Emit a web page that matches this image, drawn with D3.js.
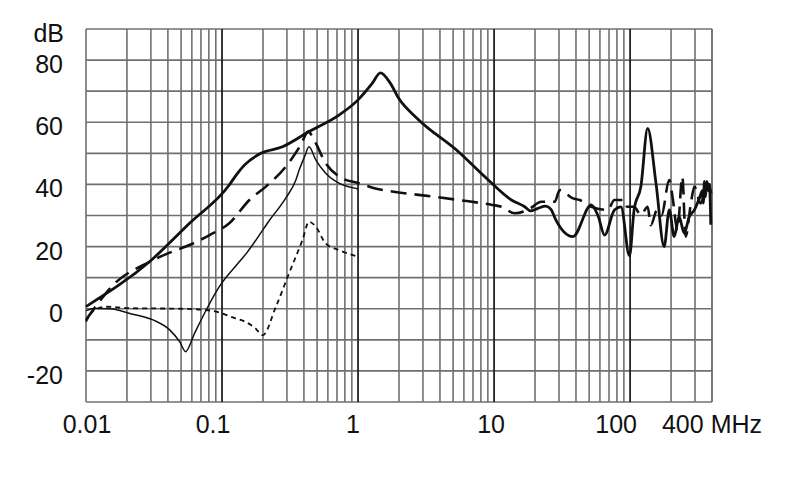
<!DOCTYPE html>
<html>
<head>
<meta charset="utf-8">
<script src="https://cdn.jsdelivr.net/npm/d3@7"></script>
<style>
  html, body { margin: 0; padding: 0; background: #fff; }
  svg { display: block; }
  text { font-family: "Liberation Sans", Arial, sans-serif; fill: #111; }
</style>
</head>
<body>
<svg id="chart" width="790" height="499"></svg>
<script>
// ---------------- DATA ----------------
const xTickValues = [0.01, 0.1, 1, 10, 100, 400];
const xTickLabels = ["0.01", "0.1", "1", "10", "100", "400 MHz"];
const yTickValues = [-20, 0, 20, 40, 60, 80];
const yUnitLabel = "dB";

// Series 1: thick solid
const s1Freq = [0.01, 0.0303, 0.0577, 0.113, 0.127, 0.146, 0.193, 0.278, 0.436, 0.724, 1.0, 1.27, 1.46, 1.73, 1.99, 2.71, 5.47, 9.07, 13.4, 16.8, 18.5, 21, 24, 26.2, 28.5, 38, 51.8, 58, 64.9, 76.7, 85.7, 98.9, 107, 120, 134.6, 155, 178, 194, 211, 229, 250, 272, 297, 326, 340, 345, 352, 358, 366, 375, 383, 392];
const s1Db   = [0.7,  15.7,   27.5,   39.8,  43,    46.2,  50,    52.1,  57,    62.3,  67.2, 72.5, 75.9, 72.5, 67.7, 61.3, 50.5, 41.4, 35,   32.8, 31.5, 32.3, 33, 32, 28.5, 23.2, 33.4, 30, 23.7, 31.8, 32.8, 17, 31.8, 39.3, 58, 40.4, 20, 31.8, 23.2, 29.6, 24.3, 29.6, 31.8, 36, 38, 34, 41, 36, 41, 38, 40, 27];

// Series 2: thick long dashes
const s2Freq = [0.01, 0.012, 0.0154, 0.0294, 0.04, 0.0577, 0.081, 0.113, 0.159, 0.21, 0.294, 0.379, 0.43, 0.475, 0.578, 0.765, 1.01, 1.34, 1.78, 3.12, 5.47, 9.7, 11.4, 14.2, 18, 22.3, 27.9, 30.4, 38, 42.6, 51.8, 68.5, 76.7, 90.8, 95, 107, 120, 134.6, 142, 158, 170, 194, 205, 223, 242, 256, 279, 297, 330, 370, 400];
const s2Db   = [-3.6, 1.2,   7.1,    15.1,   17.8, 20.5,   23.7,  27.5,  35,    39.3, 45.7,  52.7,  57,   54.3,  46.8,  42,    40.4, 38.7, 37.7, 36.4, 35,   33.4, 32.8, 30.7, 32, 34.4, 34.4, 38.2, 35.5, 35, 32.8, 31.8, 35, 35, 32.8, 32.8, 30.2, 32.8, 26.9, 31.8, 30, 41.4, 36, 25.3, 42.5, 23.2, 33.5, 39.3, 33.9, 40.4, 36];

// Series 3: thin solid
const s3Freq = [0.01, 0.0116, 0.015, 0.021, 0.0311, 0.0412, 0.0488, 0.054, 0.0628, 0.0765, 0.0955, 0.134, 0.154, 0.199, 0.222, 0.294, 0.349, 0.369, 0.405, 0.436, 0.489, 0.578, 0.724, 0.97, 1.0];
const s3Db   = [-0.6, 0.1,    0,     -1.5,  -3.6,   -6.8,   -10.6,  -13.8, -7.9,   -0.4,   7.1,    15.1,  18.3,  25.3,  28.3,  35.6,  41.4,  44.6,  49,    52.1,  47.9,  43.6,  40.4,  38.7, 38.6];

// Series 4: thin short dashes
const s4Freq = [0.01, 0.0116, 0.0142, 0.02, 0.05, 0.0765, 0.095, 0.12, 0.15, 0.175, 0.199, 0.249, 0.311, 0.39, 0.436, 0.489, 0.578, 0.724, 1.0];
const s4Db   = [-4.2, -0.3,   0.65,   0.2,  0,    -0.4,   -1.2,  -2.8, -4.3, -6.2,  -8.5,  0.65,  11.4,  22.1, 28,    26.4,  21,    18.9,  16.7];

// ---------------- LAYOUT ----------------
(function () {
const svg = d3.select("#chart");
const pLeft = 86, pRight = 712, pTop = 29, pBottom = 402;

const x = d3.scaleLog().domain([0.01, 400]).range([pLeft, pRight]);
const y = d3.scaleLinear().domain([-30, 90]).range([pBottom, pTop]);

// grid values
const minorX = [];
[0.01, 0.1, 1, 10, 100].forEach(d => {
  for (let k = 1; k <= 9; k++) {
    const v = +(d * k).toPrecision(6);
    if (v <= 400) minorX.push(v);
  }
});
const decades = [0.1, 1, 10, 100];
const hGrid = d3.range(-30, 91, 10);

const grid = svg.append("g");
grid.selectAll("line.h").data(hGrid).join("line")
  .attr("x1", pLeft).attr("x2", pRight)
  .attr("y1", d => y(d)).attr("y2", d => y(d))
  .attr("stroke", "#707070").attr("stroke-width", 1.6);
grid.selectAll("line.v").data(minorX.filter(d => !decades.includes(d)).concat([400])).join("line")
  .attr("x1", d => x(d)).attr("x2", d => x(d))
  .attr("y1", pTop).attr("y2", pBottom)
  .attr("stroke", "#707070").attr("stroke-width", 1.6);
grid.selectAll("line.d").data(decades).join("line")
  .attr("x1", d => x(d)).attr("x2", d => x(d))
  .attr("y1", pTop).attr("y2", pBottom)
  .attr("stroke", "#222").attr("stroke-width", 1.8);

// axis labels
const fs = 25;
const labelDx = [1, -9, -5, -3, -14, 0];
svg.append("g").selectAll("text").data(xTickValues).join("text")
  .attr("x", (d, i) => x(d) + labelDx[i])
  .attr("y", 433)
  .attr("text-anchor", "middle")
  .attr("font-size", fs)
  .text((d, i) => xTickLabels[i]);

svg.append("g").selectAll("text").data(yTickValues).join("text")
  .attr("x", 63)
  .attr("y", d => y(d) + 4)
  .attr("dominant-baseline", "central")
  .attr("text-anchor", "end")
  .attr("font-size", fs)
  .text(d => d);

svg.append("text")
  .attr("x", 64).attr("y", 42)
  .attr("text-anchor", "end")
  .attr("font-size", fs)
  .text(yUnitLabel);

// ---------------- SERIES ----------------
const smooth = d3.line().x(d => x(d[0])).y(d => y(d[1])).curve(d3.curveMonotoneX);
const zip = (a, b) => a.map((f, i) => [f, b[i]]);

const plot = svg.append("g");
plot.append("path").datum(zip(s4Freq, s4Db))
  .attr("d", smooth).attr("fill", "none")
  .attr("stroke", "#111").attr("stroke-width", 1.8)
  .attr("stroke-dasharray", "5,4");
plot.append("path").datum(zip(s3Freq, s3Db))
  .attr("d", smooth).attr("fill", "none")
  .attr("stroke", "#111").attr("stroke-width", 1.5);
plot.append("path").datum(zip(s2Freq, s2Db))
  .attr("d", smooth).attr("fill", "none")
  .attr("stroke", "#111").attr("stroke-width", 2.6)
  .attr("stroke-dasharray", "16,8");
plot.append("path").datum(zip(s1Freq, s1Db))
  .attr("d", smooth).attr("fill", "none")
  .attr("stroke", "#111").attr("stroke-width", 2.8)
  .attr("stroke-linejoin", "round");
})();
</script>
</body>
</html>
